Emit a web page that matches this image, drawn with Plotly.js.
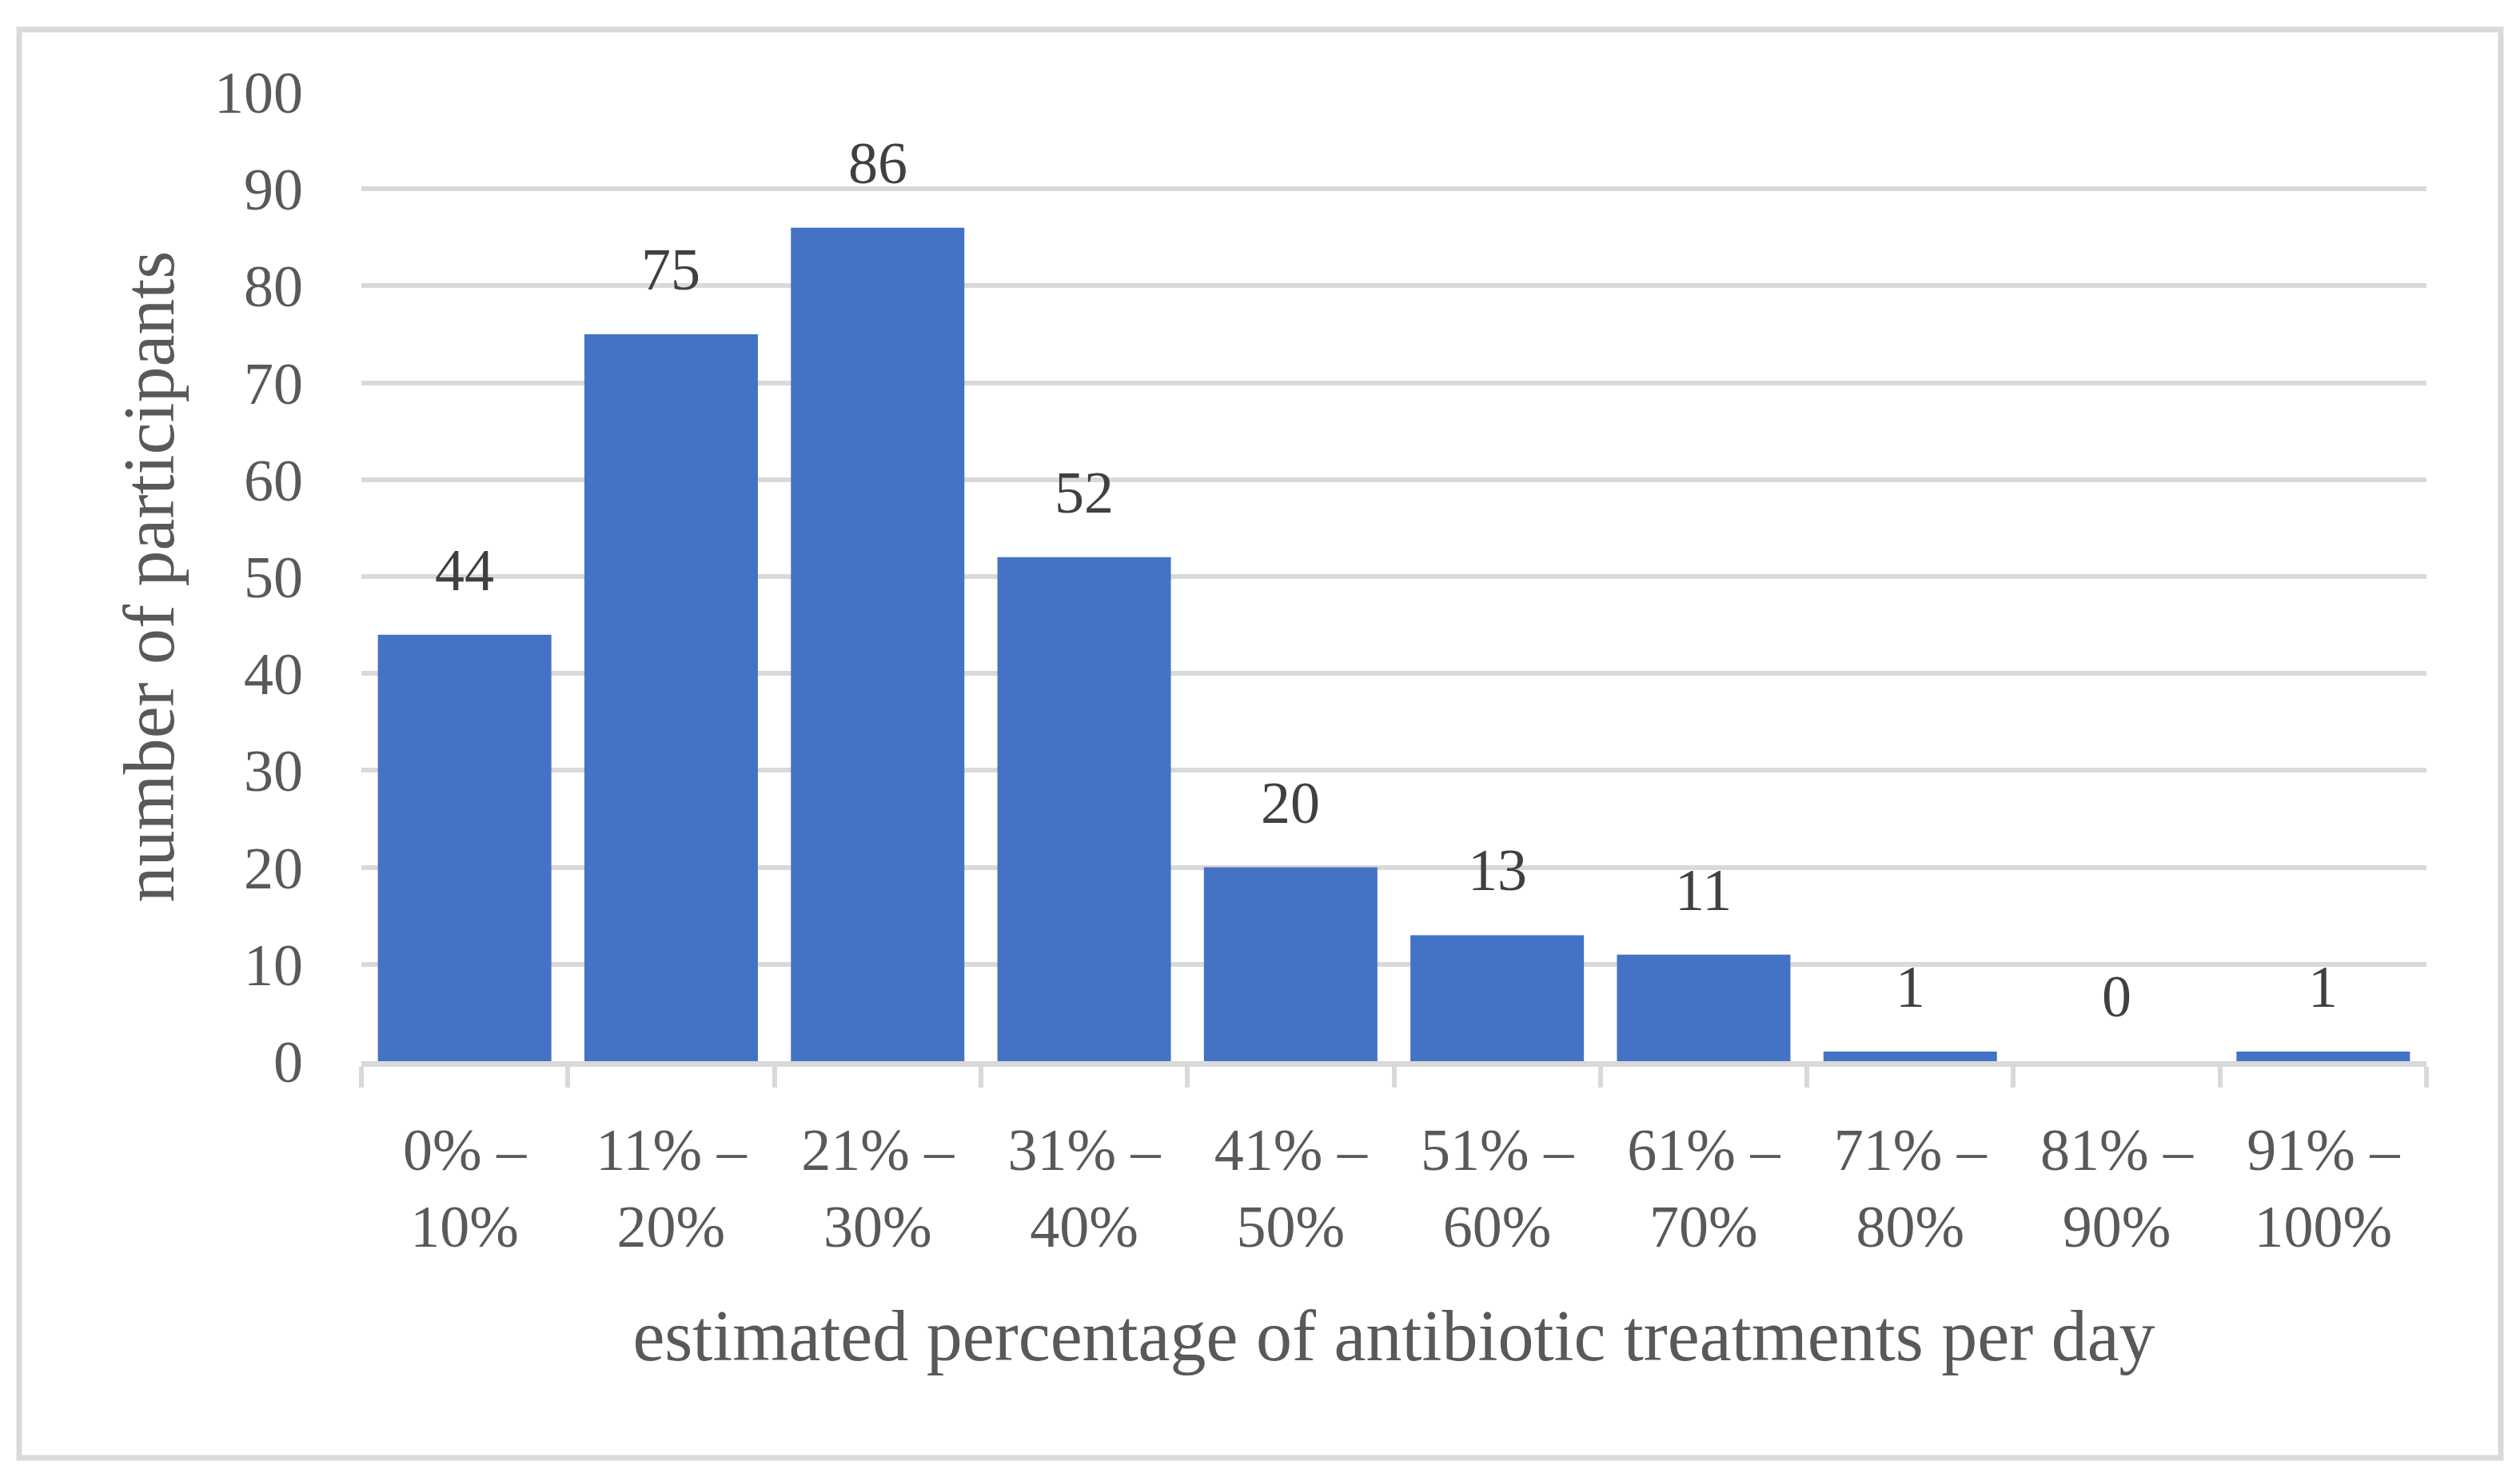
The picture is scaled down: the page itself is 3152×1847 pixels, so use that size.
<!DOCTYPE html>
<html>
<head>
<meta charset="utf-8">
<script src="https://cdn.plot.ly/plotly-3.0.1.min.js"></script>
<style>
  html, body { margin: 0; padding: 0; background: #fff; }
  #chart { width: 3152px; height: 1847px; }
</style>
</head>
<body>
<div id="chart"></div>
<script>
// Participants by estimated share of antibiotic treatments per day
const categories = [
  '0% –<br>10%', '11% –<br>20%', '21% –<br>30%', '31% –<br>40%', '41% –<br>50%',
  '51% –<br>60%', '61% –<br>70%', '71% –<br>80%', '81% –<br>90%', '91% –<br>100%',
];
const participants = [44, 75, 86, 52, 20, 13, 11, 1, 0, 1];
const yTicks = [0, 10, 20, 30, 40, 50, 60, 70, 80, 90, 100];

const FONT = '"Liberation Serif", "Times New Roman", serif';
const GREY = '#d9d9d9';
const TEXT = '#595959';

const traces = [{
  type: 'bar',
  x: categories,
  y: participants,
  marker: { color: '#4472c4' },
  hoverinfo: 'x+y',
}];

// Value labels above each bar
const annotations = categories.map((c, i) => ({
  x: c, y: participants[i], xref: 'x', yref: 'y',
  text: String(participants[i]),
  showarrow: false, yanchor: 'bottom', yshift: 38,
  font: { family: FONT, size: 74, color: '#404040' },
}));

Plotly.newPlot('chart', traces, {
  width: 3152,
  height: 1847,
  paper_bgcolor: '#fff',
  plot_bgcolor: '#fff',
  font: { family: FONT, color: TEXT, size: 74 },
  margin: { l: 452, r: 117, t: 115, b: 520 },
  bargap: 0.16,
  showlegend: false,
  xaxis: {
    type: 'category',
    tickson: 'boundaries',
    ticks: 'outside', ticklen: 26, tickwidth: 6, tickcolor: GREY,
    showline: true, linecolor: GREY, linewidth: 7,
    showgrid: false, zeroline: false,
    tickfont: { family: FONT, size: 74, color: TEXT },
    ticklabelstandoff: 40,
    title: { text: 'estimated percentage of antibiotic treatments per day', font: { family: FONT, size: 90, color: TEXT }, standoff: 66 },
    automargin: true,
  },
  yaxis: {
    range: [0, 100],
    tickvals: yTicks,
    showgrid: true, gridcolor: GREY, gridwidth: 6,
    zeroline: false, showline: false, ticks: '',
    tickfont: { family: FONT, size: 74, color: TEXT },
    ticklabelstandoff: 72,
    title: { text: 'number of participants', font: { family: FONT, size: 90, color: TEXT }, standoff: 20 },
    automargin: true,
  },
  shapes: [{
    // outer chart frame
    type: 'rect', xref: 'paper', yref: 'paper', layer: 'below',
    x0: -0.1657, x1: 1.036, y0: -0.4092, y1: 1.0644,
    line: { color: GREY, width: 7 }, fillcolor: 'rgba(0,0,0,0)',
  }],
  annotations,
}, { displayModeBar: false, staticPlot: true });
</script>
</body>
</html>
